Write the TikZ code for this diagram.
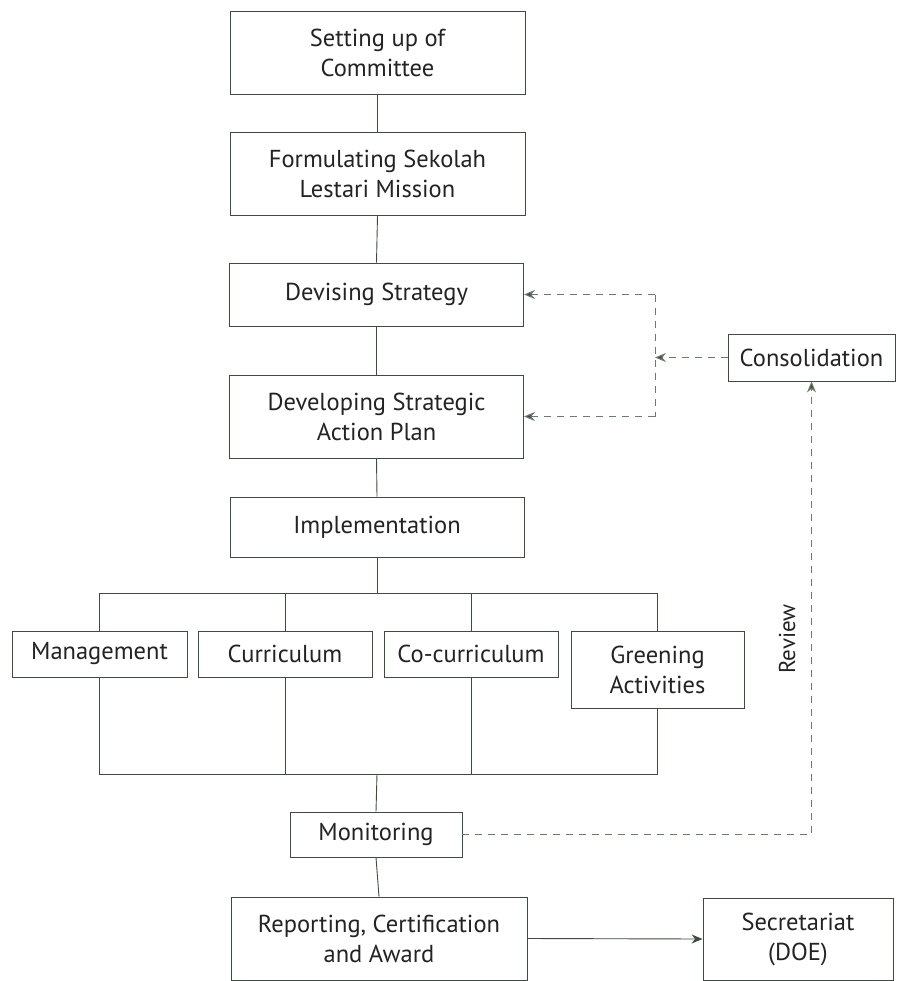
\documentclass[tikz,border=0pt]{standalone}
\usepackage{fontspec}
\setmainfont{PT Sans}
\usetikzlibrary{arrows.meta}
\definecolor{ln}{RGB}{62,76,62}
\definecolor{dl}{RGB}{110,122,110}
\definecolor{tx}{RGB}{35,35,35}
\begin{document}
\begin{tikzpicture}[x=1pt,y=-1pt,
  box/.style={draw=ln, line width=0.9pt, fill=white, align=center, inner sep=0pt,
    text=tx, font=\fontsize{24.5}{30}\selectfont},
  conn/.style={draw=ln, line width=0.9pt},
  dsh/.style={draw=dl, line width=1pt, dash pattern=on 7pt off 6pt},
  tip/.style={-{Stealth[length=11pt,width=9pt,fill=ln]}}]
\useasboundingbox (0,0) rectangle (900,981);
% main column
\node[box, minimum width=295pt, minimum height=83pt] (commit) at (377.5,52.5) {Setting up of\\Committee};
\node[box, minimum width=295pt, minimum height=83pt] (formul) at (377.5,173.5) {Formulating Sekolah\\Lestari Mission};
\node[box, minimum width=294pt, minimum height=63pt] (devis) at (376.5,294.5) {Devising Strategy};
\node[box, minimum width=294pt, minimum height=83pt] (develop) at (376.5,416.5) {Developing Strategic\\Action Plan};
\node[box, minimum width=294pt, minimum height=60pt] (impl) at (377,527) {Implementation};
% four areas
\node[box, minimum width=175pt, minimum height=46pt] (mgmt) at (99.5,654) {Management};
\node[box, minimum width=174pt, minimum height=46pt] (curr) at (285,654) {Curriculum};
\node[box, minimum width=174pt, minimum height=46pt] (cocurr) at (471,654) {Co-curriculum};
\node[box, minimum width=173pt, minimum height=77pt] (green) at (657.5,669.5) {Greening\\Activities};
% lower part
\node[box, minimum width=172pt, minimum height=45pt] (monit) at (376,834.5) {Monitoring};
\node[box, minimum width=296pt, minimum height=83pt] (report) at (379,938.5) {Reporting, Certification\\and Award};
\node[box, minimum width=190pt, minimum height=82pt] (secr) at (798,939) {Secretariat\\(DOE)};
\node[box, minimum width=167pt, minimum height=47pt] (cons) at (811.5,357.5) {Consolidation};
\node[text=tx, font=\fontsize{23}{27}\selectfont, rotate=90] (rev) at (787,639) {Review};
% helper coordinates
\coordinate (bt) at (377,593);
\coordinate (bb) at (377,774);
\coordinate (vt) at (655,294.5);
\coordinate (vj) at (655,357.5);
\coordinate (vb) at (655,416.5);
% solid connectors
\draw[conn] (commit.south) -- (formul.north);
\draw[conn] (formul.south) -- (devis.north);
\draw[conn] (devis.south) -- (develop.north);
\draw[conn] (develop.south) -- (impl.north);
\draw[conn] (impl.south) -- (bt);
\draw[conn] (mgmt.north) |- (bt);
\draw[conn] (curr.north) |- (bt);
\draw[conn] (cocurr.north) |- (bt);
\draw[conn] (green.north) |- (bt);
\draw[conn] (mgmt.south) |- (bb);
\draw[conn] (curr.south) |- (bb);
\draw[conn] (cocurr.south) |- (bb);
\draw[conn] (green.south) |- (bb);
\draw[conn] (bb) -- (monit.north);
\draw[conn] (monit.south) -- (report.north);
\draw[conn, tip] (report.east) -- (secr.west);
% dashed feedback
\draw[dsh] (vt) -- (vb);
\draw[dsh, tip] (vt) -- (devis.east);
\draw[dsh, tip] (vb) -- (develop.east);
\draw[dsh, tip] (cons.west) -- (vj);
\draw[dsh, tip] (monit.east) -| (cons.south);
\end{tikzpicture}
\end{document}
